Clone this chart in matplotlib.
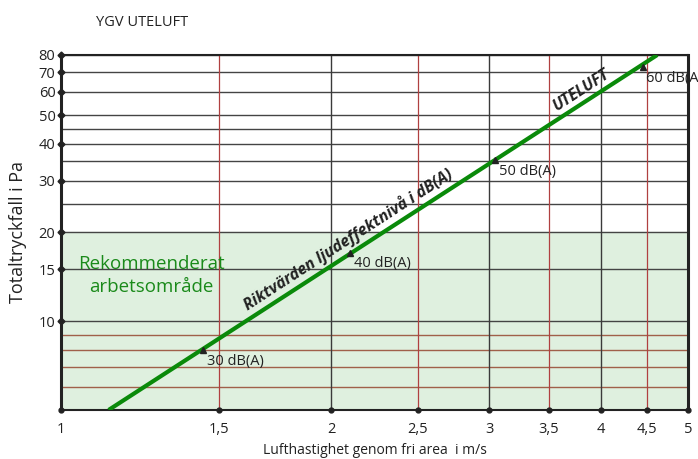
import numpy as np
import matplotlib.pyplot as plt
from matplotlib.ticker import FixedLocator, NullLocator

plt.rcParams['font.family'] = ['Open Sans', 'DejaVu Sans']

# data
x_ticks = [1, 1.5, 2, 2.5, 3, 3.5, 4, 4.5, 5]
x_labels = ['1', '1,5', '2', '2,5', '3', '3,5', '4', '4,5', '5']
y_ticks = [10, 15, 20, 30, 40, 50, 60, 70, 80]
y_grid_dark = [10, 15, 20, 25, 30, 35, 40, 45, 50, 60, 70, 80]
y_grid_brown = [6, 7, 8, 9]
x_grid_dark = [2, 3, 4]
x_grid_red = [1.5, 2.5, 3.5, 4.5]

line_v = [1.13, 4.62]
line_p = [5, 80]

db_v = [1.44, 2.10, 3.05, 4.45]
db_p = [8.0, 17.1, 35.3, 72.9]
db_labels = ['30 dB(A)', '40 dB(A)', '50 dB(A)', '60 dB(A)']

fig = plt.figure(figsize=(6.98, 4.59), dpi=100)
ax = fig.add_axes([0.0874, 0.1068, 0.8983, 0.7734])
ax.set_xscale('log')
ax.set_yscale('log')
ax.set_xlim(1, 5)
ax.set_ylim(5, 80)

# recommended area
ax.axhspan(5, 20, color='#dff0df', zorder=0)

for y in y_grid_dark:
    ax.axhline(y, color='#444444', lw=1, zorder=1)
for y in y_grid_brown:
    ax.axhline(y, color='#a0604a', lw=1, zorder=1)
for x in x_grid_dark:
    ax.axvline(x, color='#3a3a3a', lw=1, zorder=1)
for x in x_grid_red:
    ax.axvline(x, color='#b04040', lw=0.9, zorder=1)

ax.plot(line_v, line_p, color='#0a8a0a', lw=3, zorder=3, solid_capstyle='butt')

ax.plot(db_v, db_p, '^', color='#222222', ms=4, zorder=4)
for v, p, t in zip(db_v, db_p, db_labels):
    ax.text(v * 1.01, p * 0.97, t, fontsize=10.5, color='#222222',
            ha='left', va='top', zorder=5, clip_on=False)

ax.text(1.615, 10.9, 'Riktvärden ljudeffektnivå i dB(A)', rotation=33,
        rotation_mode='anchor', ha='left', va='baseline', fontsize=11.5,
        fontweight='bold', fontstyle='italic', color='#222222', zorder=5)
ax.text(3.57, 51.5, 'UTELUFT', rotation=33, rotation_mode='anchor',
        ha='left', va='baseline', fontsize=11.5, fontweight='bold',
        fontstyle='italic', color='#222222', zorder=5)

ax.text(1.26, 14.3, 'Rekommenderat\narbetsområde', ha='center', va='center',
        fontsize=13.5, color='#1a8a1a', linespacing=1.3, zorder=5)

# ticks as small diamonds on the axes
ax.plot([1] * len(y_ticks), y_ticks, 'D', color='#222222', ms=3.5,
        clip_on=False, zorder=6)
ax.plot(x_ticks, [5] * len(x_ticks), 'o', color='#222222', ms=3.5,
        clip_on=False, zorder=6)

ax.xaxis.set_major_locator(FixedLocator(x_ticks))
ax.xaxis.set_minor_locator(NullLocator())
ax.set_xticklabels(x_labels)
ax.yaxis.set_major_locator(FixedLocator(y_ticks))
ax.yaxis.set_minor_locator(NullLocator())
ax.set_yticklabels([str(v) for v in y_ticks])
ax.tick_params(length=0, labelsize=10.5, colors='#222222')
ax.tick_params(axis='x', pad=9)
ax.tick_params(axis='y', pad=4)

for s in ['left', 'right']:
    ax.spines[s].set_linewidth(2.2)
    ax.spines[s].set_color('#222222')
for s in ['top', 'bottom']:
    ax.spines[s].set_linewidth(1.5)
    ax.spines[s].set_color('#222222')

ax.set_xlabel('Lufthastighet genom fri area  i m/s', fontsize=10,
              color='#222222', labelpad=4)
ax.set_ylabel('Totaltryckfall i Pa', fontsize=13, color='#222222',
              labelpad=8)
fig.text(0.137, 0.952, 'YGV UTELUFT', fontsize=10.5, color='#222222',
         ha='left', va='center')

fig.savefig('out.png', dpi=100)
